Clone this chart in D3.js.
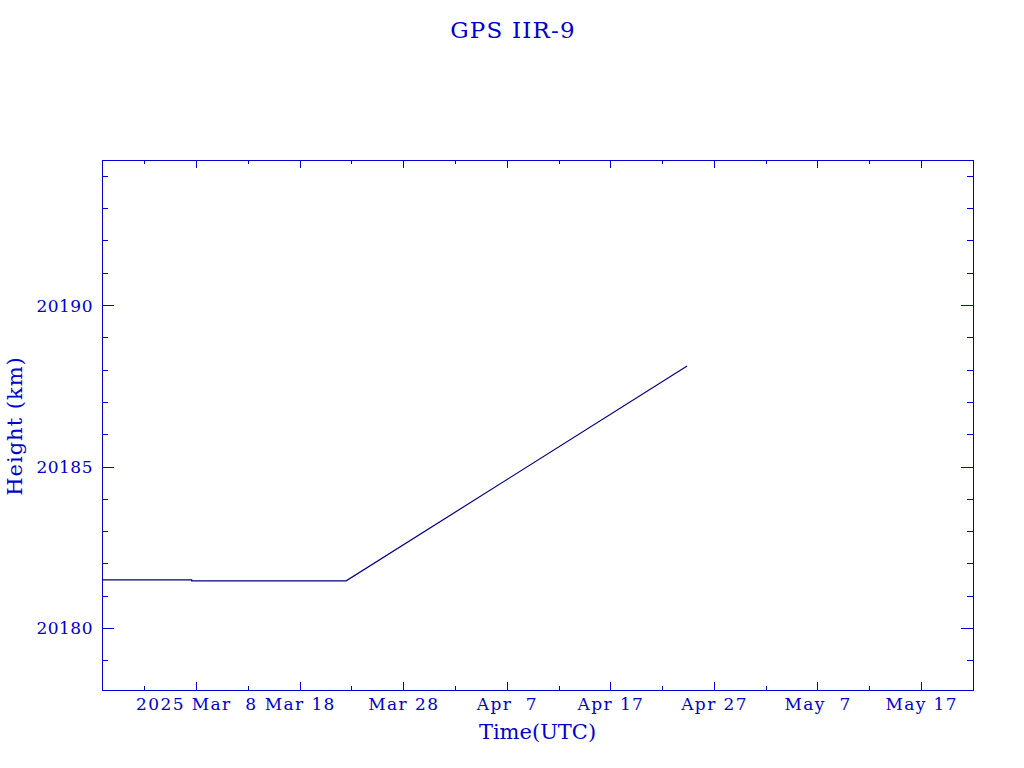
<!DOCTYPE html>
<html><head><meta charset="utf-8">
<script src="https://cdn.jsdelivr.net/npm/d3@7"></script>
<style>body{margin:0;background:#fff;} text{white-space:pre;font-family:"DejaVu Serif",serif;}</style>
</head><body>
<svg id="c" width="1024" height="768"></svg>
<script>
const title = "GPS IIR-9";
const xTitle = "Time(UTC)";
const yTitle = "Height (km)";
const times = ["2025-02-26T22:00Z","2025-03-07T14:00Z","2025-03-07T14:00Z","2025-03-22T12:00Z","2025-04-24T10:00Z"];
const heights = [20181.49, 20181.49, 20181.46, 20181.46, 20188.11];
const xTickDates = ["2025-03-08","2025-03-18","2025-03-28","2025-04-07","2025-04-17","2025-04-27","2025-05-07","2025-05-17"];
const xTickLabels = ["2025 Mar  8","Mar 18","Mar 28","Apr  7","Apr 17","Apr 27","May  7","May 17"];
const yTickValues = [20180, 20185, 20190];
const xDomain = ["2025-02-26T22:10Z","2025-05-22T00:30Z"];
const yDomain = [20178.08, 20194.49];

const axisColor = "#0000cc", lineColor = "#000080";
const L=102, R=973, T=160, B=690;
const svg = d3.select("#c");
const x = d3.scaleUtc().domain(xDomain.map(d=>new Date(d))).range([L,R]);
const y = d3.scaleLinear().domain(yDomain).range([B,T]);

svg.append("rect").attr("x",L+0.5).attr("y",T+0.5).attr("width",R-L).attr("height",B-T)
  .attr("fill","none").attr("stroke",axisColor).attr("stroke-width",1);

const majX = xTickDates.map(d=>new Date(d+"T00:00Z"));
const minX = d3.range(-2, 16).map(i=>d3.utcDay.offset(majX[0], i*5))
  .filter(d=>d>=x.domain()[0]&&d<=x.domain()[1]);
const g = svg.append("g").attr("stroke",axisColor).attr("stroke-width",1);
minX.forEach(d=>{
  const isMaj = majX.some(m=>+m===+d);
  const len = isMaj?8:4;
  const px = Math.round(x(d))+0.5;
  g.append("line").attr("x1",px).attr("x2",px).attr("y1",B).attr("y2",B-len);
  g.append("line").attr("x1",px).attr("x2",px).attr("y1",T).attr("y2",T+len);
});
d3.range(20179, 20195, 1).forEach(v=>{
  const isMaj = v%5===0;
  const len = isMaj?12:6;
  const py = Math.round(y(v))+0.5;
  g.append("line").attr("x1",L).attr("x2",L+len).attr("y1",py).attr("y2",py);
  g.append("line").attr("x1",R).attr("x2",R-len).attr("y1",py).attr("y2",py);
});

majX.forEach((d,i)=>{
  svg.append("text").attr("x",x(d)+0.7).attr("y",710).attr("text-anchor","middle")
    .attr("fill",axisColor).attr("font-size",17).attr("letter-spacing",1.4).text(xTickLabels[i]);
});
yTickValues.forEach(v=>{
  svg.append("text").attr("x",93).attr("y",y(v)+6.5).attr("text-anchor","end")
    .attr("fill",axisColor).attr("font-size",17).attr("letter-spacing",0.5).text(v);
});
svg.append("text").attr("x",513).attr("y",38).attr("text-anchor","middle")
  .attr("fill",axisColor).attr("font-size",23).attr("letter-spacing",1.2).text(title);
svg.append("text").attr("x",(L+R)/2).attr("y",739).attr("text-anchor","middle")
  .attr("fill",axisColor).attr("font-size",21).text(xTitle);
svg.append("text").attr("transform",`translate(22,${(T+B)/2+1}) rotate(-90)`).attr("text-anchor","middle")
  .attr("fill",axisColor).attr("font-size",21).attr("letter-spacing",1).text(yTitle);

const data = times.map((t,i)=>({t:new Date(t), h:heights[i]}));
svg.append("path").datum(data).attr("fill","none").attr("stroke",lineColor).attr("stroke-width",1.2)
  .attr("d", d3.line().x(d=>x(d.t)).y(d=>y(d.h)));
</script>
</body></html>
